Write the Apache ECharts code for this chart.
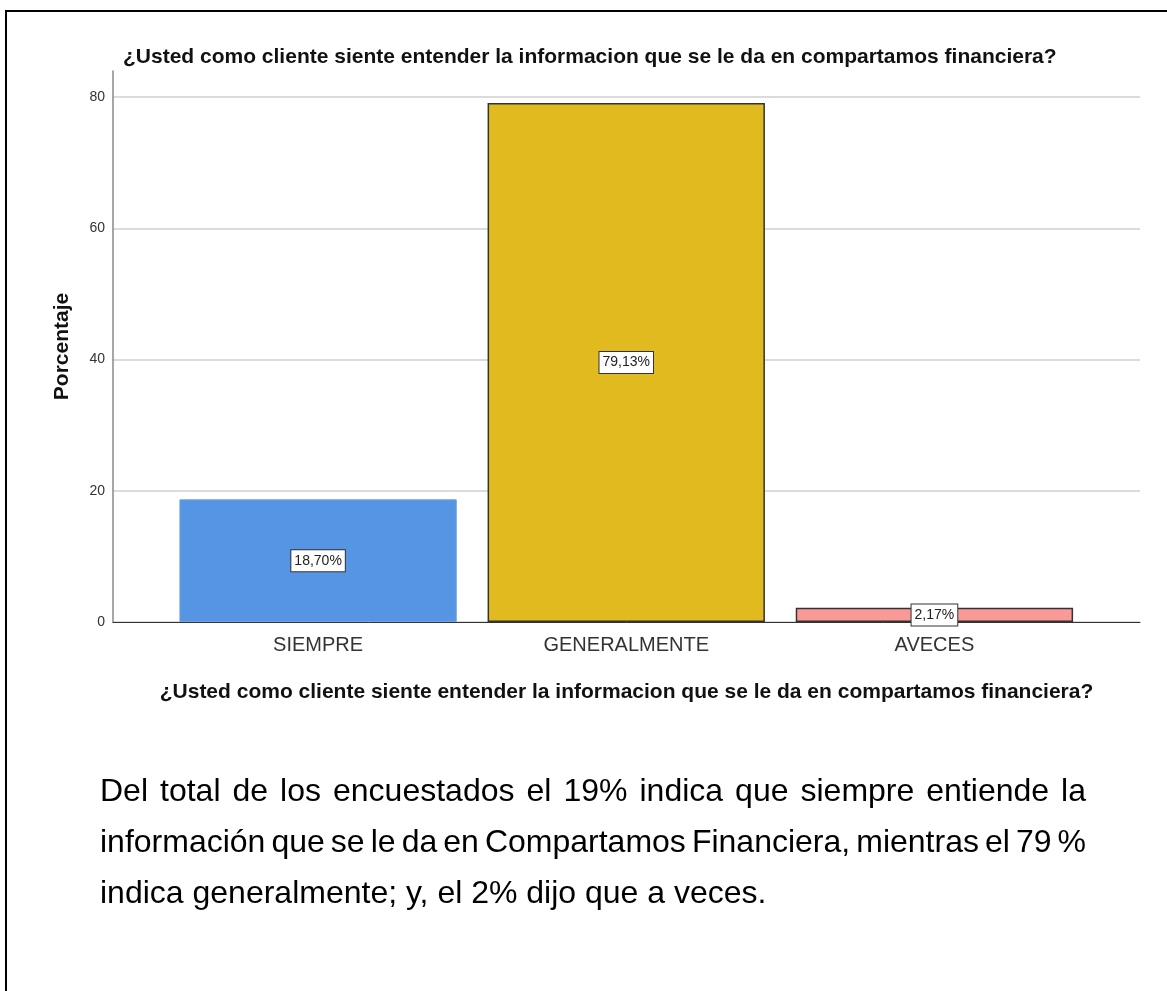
<!DOCTYPE html>
<html>
<head>
<meta charset="utf-8">
<script src="https://cdn.jsdelivr.net/npm/echarts@6/dist/echarts.min.js"></script>
<style>
  html, body { margin: 0; padding: 0; background: #fff; overflow: hidden; }
  #frame {
    position: absolute; left: 5px; top: 10px; width: 1300px; height: 1100px;
    border-left: 2px solid #000; border-top: 2px solid #000;
  }
  #myChart { position: absolute; left: 0; top: 0; width: 1167px; height: 991px; }
  #texto {
    position: absolute; left: 100px; top: 765px; width: 986px;
    font-family: "Liberation Sans", Arial, sans-serif; font-size: 32px;
    line-height: 51px; color: #000;
  }
  #texto div { text-align: justify; white-space: nowrap; }
  #texto .j { text-align-last: justify; }
  #texto .apretado { word-spacing: -3px; }
</style>
</head>
<body>
<div id="frame"></div>
<div id="myChart"></div>
<div id="texto">
  <div class="j">Del total de los encuestados el 19% indica que siempre entiende la</div>
  <div class="j apretado">información que se le da en Compartamos Financiera, mientras el 79 %</div>
  <div>indica generalmente; y, el 2% dijo que a veces.</div>
</div>
<script>
// datos del grafico
var pregunta = "¿Usted como cliente siente entender la informacion que se le da en compartamos financiera?";
var categorias = ["SIEMPRE", "GENERALMENTE", "AVECES"];
var porcentajes = [18.70, 79.13, 2.17];
var colores = ["#5595e3", "#e0ba1f", "#fa9a98"];
var bordes = ["#6fa3e6", "#333333", "#333333"];

var fuente = "Liberation Sans";

var barras = [];
for (var i = 0; i < porcentajes.length; i++) {
  barras.push({
    value: porcentajes[i],
    itemStyle: {
      color: colores[i],
      borderColor: bordes[i],
      borderWidth: i === 0 ? 1 : 1.5
    }
  });
}

var myChart = echarts.init(document.getElementById("myChart"));

var option = {
  animation: false,
  title: {
    text: pregunta,
    left: 118,
    top: 42,
    textStyle: {
      color: "#111",
      fontFamily: fuente,
      fontSize: 21,
      fontWeight: "bold"
    }
  },
  grid: [
    // marco del eje (linea y cuadricula)
    { left: 113, right: 27, top: 71, bottom: 369 },
    // zona de las barras
    { left: 164, right: 78.5, top: 71, bottom: 369 }
  ],
  xAxis: [
    {
      type: "value",
      gridIndex: 0,
      min: 0,
      max: 1,
      axisLine: { show: true, lineStyle: { color: "#333", width: 1 } },
      axisTick: { show: false },
      axisLabel: { show: false },
      splitLine: { show: false },
      name: pregunta,
      nameLocation: "middle",
      nameGap: 60,
      nameTextStyle: {
        color: "#111",
        fontFamily: fuente,
        fontSize: 21,
        fontWeight: "bold"
      }
    },
    {
      type: "category",
      gridIndex: 1,
      data: categorias,
      axisLine: { show: false },
      axisTick: { show: false },
      axisLabel: {
        color: "#333",
        fontFamily: fuente,
        fontSize: 20,
        margin: 13
      }
    }
  ],
  yAxis: [
    {
      type: "value",
      gridIndex: 0,
      min: 0,
      max: 84,
      interval: 20,
      name: "Porcentaje",
      nameLocation: "middle",
      nameGap: 40,
      nameTextStyle: {
        color: "#111",
        fontFamily: fuente,
        fontSize: 21,
        fontWeight: "bold"
      },
      axisLine: { show: true, lineStyle: { color: "#888", width: 1.5 } },
      axisTick: { show: false },
      axisLabel: {
        color: "#333",
        fontFamily: fuente,
        fontSize: 14,
        margin: 8,
        showMaxLabel: false
      },
      splitLine: {
        show: true,
        showMaxLine: false,
        lineStyle: { color: "#cfcfcf", width: 1.5 }
      }
    },
    {
      type: "value",
      gridIndex: 1,
      min: 0,
      max: 84,
      show: false
    }
  ],
  series: [
    {
      name: "Porcentaje",
      type: "bar",
      xAxisIndex: 1,
      yAxisIndex: 1,
      barCategoryGap: "10%",
      data: barras,
      label: {
        show: true,
        position: "inside",
        formatter: function (p) {
          return p.value.toFixed(2).replace(".", ",") + "%";
        },
        color: "#222",
        fontFamily: fuente,
        fontSize: 14,
        backgroundColor: "#fff",
        borderColor: "#333",
        borderWidth: 1,
        padding: [4, 3, 3, 3]
      }
    }
  ]
};
myChart.setOption(option);
</script>
</body>
</html>
